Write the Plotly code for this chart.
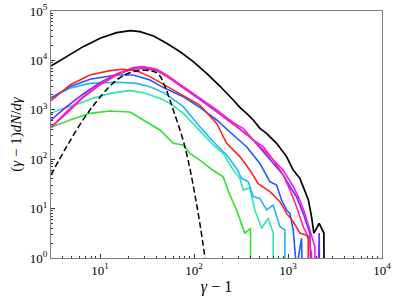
import plotly.graph_objects as go
import math

# ---------------- data (gamma-1, (gamma-1) dN/dgamma) ----------------
total_x = [3.0, 4.4, 6.6, 10, 15, 21, 26.5, 37, 51, 71, 98, 136, 188, 261, 307, 362, 426, 502,
           590, 755, 964, 1135, 1336, 1639, 1778, 1884, 2146, 2406, 2466]
total_y = [7700, 11900, 19000, 28000, 36400, 40000, 38200, 31200, 22200, 15000, 9430, 5470, 3030,
           1580, 1120, 848, 622, 422, 334, 210, 113, 60, 41, 15.4, 6.9, 3.2, 5.0, 3.2, 0.001]

maxw_x = [3.0, 4.4, 7.8, 15.0, 22.5, 33.9, 41.6, 49.0, 60.0, 79.9, 106, 130, 136]
maxw_y = [48, 179, 991, 4010, 5910, 6200, 5310, 2940, 991, 179, 12.8, 1.06, 0.5]

green_x = [3.0, 4.78, 7.8, 12.7, 20.8, 28.8, 43.3, 60.0, 76.7, 90.3, 115, 160, 204, 240, 283, 347, 399, 400]
green_y = [442, 622, 848, 946, 903, 622, 390, 210, 194, 131, 96, 59, 44, 19, 9.4, 3.2, 4.0, 0.001]

teal_x = [3.0, 3.74, 6.1, 7.8, 12.7, 20.8, 28.8, 43.3, 55.3, 76.7, 115, 160, 204, 261, 307, 333, 393,
          444, 523, 615, 695, 696]
teal_y = [848, 1020, 1350, 1630, 2150, 2440, 2220, 1710, 1350, 848, 378, 194, 131, 60, 41, 24, 26,
          9.4, 4.0, 6.4, 3.2, 0.001]

sky_x = [3.0, 4.78, 7.8, 15.0, 24.5, 33.9, 49.0, 76.7, 115, 160, 222, 283, 320, 377, 426, 502, 590,
         695, 819, 925, 926]
sky_y = [1790, 2720, 3430, 3600, 3430, 2940, 2150, 1160, 456, 226, 122, 65, 41, 35, 17.4, 16.1, 9.4,
         11.8, 4.3, 3.7, 0.001]

blue_x = [3.0, 4.78, 7.8, 15.0, 22.5, 33.9, 49.0, 76.7, 115, 174, 261, 362, 502, 641, 755, 853, 964,
          1046, 1135, 1231, 1392, 1510]
blue_y = [1710, 2940, 4140, 5060, 5060, 4010, 2720, 1840, 1120, 622, 309, 179, 82, 35, 30, 14.9, 9.4,
          8.0, 3.7, 0.6, 2.5, 0.001]

red_x = [3.0, 4.78, 7.8, 12.7, 17.6, 24.5, 33.9, 51.0, 76.7, 115, 174, 222, 307, 393, 481, 641, 819,
         964, 1135, 1336, 1573, 1639, 1640]
red_y = [1530, 3180, 5060, 6200, 6600, 6200, 4690, 3030, 1990, 1250, 532, 210, 113, 60, 32, 22, 13.8,
         8.0, 5.4, 3.2, 2.9, 2.5, 0.001]

purple_x = [3.0, 4.4, 6.62, 9.96, 15.0, 22.5, 28.8, 39.9, 51.0, 76.7, 115, 174, 261, 333, 426, 544,
            695, 889, 1046, 1231, 1450, 1707, 1930, 2146, 2218]
purple_y = [622, 1160, 2090, 3540, 5310, 6700, 6910, 6200, 4830, 2850, 1630, 917, 516, 361, 245, 142,
            82, 48, 28, 17.4, 8.0, 3.2, 0.0001, 3.2, 0.0001]

magenta_x = [3.0, 4.4, 6.62, 9.96, 15.0, 22.5, 28.8, 39.9, 51.0, 76.7, 115, 174, 261, 333, 426, 544,
             695, 889, 1135, 1336, 1510, 1707, 1930, 1978]
magenta_y = [442, 917, 1840, 3330, 5310, 7130, 7470, 6600, 5060, 2940, 1710, 991, 549, 422, 245, 179,
             96, 60, 28, 14.9, 8.0, 3.7, 1.7, 0.001]

pink_x = [3.0, 4.4, 6.62, 9.96, 15.0, 22.5, 28.8, 39.9, 51.0, 76.7, 115, 174, 261, 393, 544, 695, 889,
          1046, 1231, 1450, 1639, 1778, 1822]
pink_y = [442, 848, 1790, 3180, 5060, 6910, 7130, 6390, 4830, 2850, 1630, 917, 516, 286, 154, 96, 48,
          24, 10.9, 4.3, 2.7, 1.24, 0.001]

x_tick_vals = [10, 100, 1000, 10000]
x_tick_text = ["10<sup>1</sup>", "10<sup>2</sup>", "10<sup>3</sup>", "10<sup>4</sup>"]
y_tick_vals = [1, 10, 100, 1000, 10000, 100000]
y_tick_text = ["10<sup>0</sup>", "10<sup>1</sup>", "10<sup>2</sup>", "10<sup>3</sup>",
               "10<sup>4</sup>", "10<sup>5</sup>"]

series = [
    (green_x, green_y, "#30e030"),
    (teal_x, teal_y, "#2ce8b0"),
    (sky_x, sky_y, "#22b4ff"),
    (blue_x, blue_y, "#2058ff"),
    (purple_x, purple_y, "#7a22ff"),
    (magenta_x, magenta_y, "#e022f0"),
    (pink_x, pink_y, "#ff22a8"),
    (red_x, red_y, "#ff2222"),
]

fig = go.Figure()
for xs, ys, col in series:
    fig.add_trace(go.Scatter(x=xs, y=ys, mode="lines", line=dict(color=col, width=1.6),
                             showlegend=False, hoverinfo="skip"))
fig.add_trace(go.Scatter(x=total_x, y=total_y, mode="lines", line=dict(color="black", width=1.7),
                         showlegend=False, hoverinfo="skip"))
fig.add_trace(go.Scatter(x=maxw_x, y=maxw_y, mode="lines",
                         line=dict(color="black", width=1.5, dash="6px,3px", shape="spline"),
                         showlegend=False, hoverinfo="skip"))

def minor_vals(lo, hi):
    out = []
    for e in range(lo, hi):
        for m in range(2, 10):
            out.append(m * 10 ** e)
    return out

font = "Liberation Serif, DejaVu Serif, serif"
axis_common = dict(type="log", showgrid=False, zeroline=False, showline=True, linecolor="#808080",
                   linewidth=1, mirror=True, ticks="inside", ticklen=4, tickcolor="#333",
                   tickfont=dict(family=font, size=13, color="black"))

fig.update_layout(
    width=398, height=303,
    margin=dict(l=51, r=16, t=11, b=45, autoexpand=False),
    paper_bgcolor="white", plot_bgcolor="white",
    xaxis=dict(range=[math.log10(3), 4], tickvals=x_tick_vals, ticktext=x_tick_text,
               minor=dict(ticks="inside", ticklen=2, tickcolor="#333",
                          tickvals=[v for v in minor_vals(0, 4) if v >= 3]),
               title=dict(text="<i>γ</i> − 1", font=dict(family=font, size=16, color="black"),
                          standoff=3),
               **axis_common),
    yaxis=dict(range=[0, 5], tickvals=y_tick_vals, ticktext=y_tick_text,
               minor=dict(ticks="inside", ticklen=2, tickcolor="#333", tickvals=minor_vals(0, 5)),
               title=dict(text="(<i>γ</i> − 1)<i>dN</i>/<i>dγ</i>",
                          font=dict(family=font, size=15, color="black"), standoff=4),
               **axis_common),
)

fig.write_html("out.html", config={"displayModeBar": False},
               post_script="document.body.style.margin='0';document.body.style.overflow='hidden';")
